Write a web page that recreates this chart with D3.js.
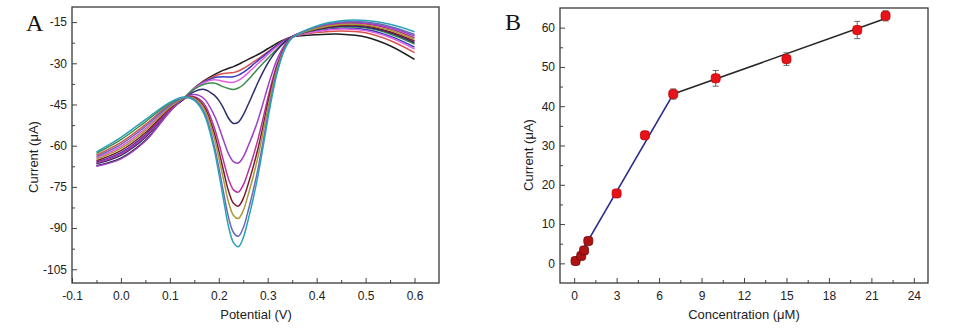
<!DOCTYPE html>
<html><head><meta charset="utf-8">
<script src="https://cdn.jsdelivr.net/npm/d3@7"></script>
<style>
html,body{margin:0;padding:0;background:#fff;}
svg{display:block;font-family:"Liberation Sans",Arial,sans-serif;}
</style></head>
<body>
<svg id="chart" width="980" height="332"></svg>
<script>
// ---------- Panel A data: DPV curves ----------
const potential = [-0.05, 0, 0.05, 0.1, 0.13, 0.15, 0.17, 0.19, 0.2, 0.21, 0.22, 0.23, 0.24, 0.25, 0.26, 0.27, 0.28, 0.29, 0.3, 0.31, 0.32, 0.335, 0.35, 0.4, 0.45, 0.5, 0.55, 0.6];
const curveBlack   = [-67.3, -64.5, -58.0, -47.5, -42.5, -39.0, -36.3, -34.2, -33.3, -32.5, -31.8, -31.2, -30.4, -29.5, -28.6, -27.7, -26.8, -25.8, -24.7, -23.7, -22.6, -21.3, -20.4, -19.6, -19.4, -20.4, -23.6, -28.6];
const curveRed     = [-63.5, -58.8, -52.3, -45.0, -42.6, -39.1, -36.6, -34.8, -34.1, -33.7, -33.5, -33.4, -32.8, -31.9, -30.8, -29.6, -28.4, -27.1, -25.8, -24.5, -23.2, -21.5, -20.3, -18.8, -18.2, -18.9, -21.7, -26.1];
const curveBlue    = [-66.0, -62.5, -56.0, -46.6, -42.8, -39.1, -36.8, -35.3, -35.0, -34.9, -35.0, -34.9, -34.3, -33.3, -32.0, -30.5, -29.0, -27.6, -26.1, -24.7, -23.4, -21.7, -20.3, -18.2, -17.2, -17.7, -20.1, -24.1];
const curvePink    = [-64.5, -60.3, -53.8, -45.7, -42.7, -39.2, -37.0, -36.0, -36.2, -36.6, -36.9, -36.9, -36.2, -35.0, -33.5, -31.8, -30.1, -28.5, -26.8, -25.2, -23.8, -21.9, -20.3, -18.4, -17.5, -18.1, -20.6, -24.8];
const curveGreen   = [-62.8, -57.8, -51.3, -44.5, -42.4, -39.4, -37.6, -37.2, -37.8, -38.6, -39.2, -39.5, -39.0, -37.8, -36.0, -34.0, -32.0, -30.1, -28.2, -26.4, -24.6, -22.3, -20.3, -17.8, -16.7, -17.1, -19.3, -23.0];
const curveNavy    = [-66.6, -63.5, -57.0, -47.0, -42.9, -40.3, -39.5, -41.5, -43.5, -46.5, -50.0, -51.9, -51.4, -48.8, -45.0, -41.0, -37.0, -33.3, -30.0, -27.3, -25.0, -22.2, -20.2, -17.7, -16.5, -16.8, -18.9, -22.5];
const curvePurple  = [-67.5, -64.8, -58.3, -47.6, -42.6, -41.4, -42.9, -48.7, -53.1, -58.2, -63.0, -65.8, -66.3, -64.1, -60.1, -55.7, -50.7, -44.8, -38.6, -33.0, -28.2, -23.2, -20.3, -16.9, -15.2, -15.3, -17.0, -20.0];
const curveMagenta = [-66.3, -63.0, -56.5, -46.8, -42.5, -42.2, -44.8, -53.0, -59.0, -65.8, -72.2, -76.1, -76.9, -74.3, -69.5, -64.0, -57.7, -50.4, -42.8, -35.8, -29.9, -23.8, -20.4, -17.1, -15.6, -15.7, -17.5, -20.7];
const curveMaroon  = [-65.5, -61.8, -55.3, -46.3, -42.6, -42.5, -45.8, -55.0, -61.8, -69.4, -76.6, -81.0, -82.0, -79.2, -74.0, -67.9, -61.1, -53.2, -44.7, -37.1, -30.7, -24.0, -20.5, -17.5, -16.2, -16.4, -18.5, -21.9];
const curveOlive   = [-65.0, -61.0, -54.5, -46.0, -42.6, -42.8, -46.6, -56.8, -64.3, -72.6, -80.6, -85.4, -86.5, -83.6, -77.9, -71.5, -64.1, -55.5, -46.5, -38.3, -31.4, -24.3, -20.6, -17.3, -15.9, -16.1, -18.0, -21.3];
const curveSlate   = [-64.0, -59.5, -53.0, -45.3, -42.5, -43.2, -47.8, -59.5, -67.9, -77.3, -86.2, -91.6, -93.0, -89.9, -83.7, -76.5, -68.5, -59.0, -49.0, -40.0, -32.4, -24.6, -20.7, -16.7, -15.0, -15.0, -16.6, -19.5];
const curveTeal    = [-62.3, -57.0, -50.5, -44.2, -42.3, -43.5, -48.5, -61.0, -70.0, -80.0, -89.5, -95.3, -96.8, -93.5, -87.0, -79.5, -71.0, -61.0, -50.5, -41.0, -33.0, -24.8, -20.8, -16.4, -14.5, -14.4, -15.8, -18.5];
const curveColors  = ["#1e1e1e", "#d9534f", "#3a3ac8", "#e05ee0", "#3b8c4c", "#2c2c6c", "#9a42c8", "#b8329c", "#7e1a30", "#a89a34", "#6a6ab8", "#2aa2b8"];

const xTicksA = [-0.1, 0, 0.1, 0.2, 0.3, 0.4, 0.5, 0.6];
const xTickLabelsA = ["-0.1", "0.0", "0.1", "0.2", "0.3", "0.4", "0.5", "0.6"];
const yTicksA = [-105, -90, -75, -60, -45, -30, -15];
const yTickLabelsA = ["-105", "-90", "-75", "-60", "-45", "-30", "-15"];

// ---------- Panel B data: calibration ----------
const conc      = [0.1, 0.5, 0.7, 1, 3, 5, 7, 10, 15, 20, 22];
const current   = [0.6, 1.9, 3.3, 5.7, 17.8, 32.6, 43.1, 47.1, 52.0, 59.4, 63.0];
const currentSd = [0.4, 0.4, 0.5, 0.6, 0.8, 1.0, 1.3, 2.0, 1.6, 2.2, 1.3];
const fitLowX   = [0.1, 7];
const fitLowY   = [0.3, 43.1];
const fitHighX  = [7, 22];
const fitHighY  = [43.1, 62.3];
const xTicksB = [0, 3, 6, 9, 12, 15, 18, 21, 24];
const yTicksB = [0, 10, 20, 30, 40, 50, 60];

// ---------- drawing ----------
const svg = d3.select("#chart");
const fontTick = 12, fontTitle = 13;

function drawFrame(g, x, y, xt, xl, yt, yl, xMinor, yMinor) {
  const [x0, x1] = x.range(), [y0, y1] = y.range();
  g.append("g").attr("transform", `translate(0,${y0})`)
    .call(d3.axisBottom(x).tickValues(xMinor).tickSize(-3).tickFormat(""))
    .call(s => { s.select(".domain").remove(); s.selectAll("line").attr("stroke", "#444"); });
  g.append("g").attr("transform", `translate(${x0},0)`)
    .call(d3.axisLeft(y).tickValues(yMinor).tickSize(-3).tickFormat(""))
    .call(s => { s.select(".domain").remove(); s.selectAll("line").attr("stroke", "#444"); });
  g.append("g").attr("transform", `translate(0,${y0})`)
    .call(d3.axisBottom(x).tickValues(xt).tickSize(-5).tickPadding(8).tickFormat((d, i) => xl[i]))
    .call(s => { s.select(".domain").remove(); s.selectAll("line").attr("stroke", "#444");
      s.selectAll("text").attr("fill", "#222").attr("font-size", fontTick).attr("font-family", "Liberation Sans, Arial, sans-serif"); });
  g.append("g").attr("transform", `translate(${x0},0)`)
    .call(d3.axisLeft(y).tickValues(yt).tickSize(-5).tickPadding(5).tickFormat((d, i) => yl[i]))
    .call(s => { s.select(".domain").remove(); s.selectAll("line").attr("stroke", "#444");
      s.selectAll("text").attr("fill", "#222").attr("font-size", fontTick).attr("font-family", "Liberation Sans, Arial, sans-serif"); });
  g.append("rect").attr("x", x0).attr("y", y1).attr("width", x1 - x0).attr("height", y0 - y1)
    .attr("fill", "none").attr("stroke", "#3a3a3a").attr("stroke-width", 1.3);
}

// Panel A
const xA = d3.scaleLinear().domain([-0.1, 0.65]).range([72, 439]);
const yA = d3.scaleLinear().domain([-110, -9.5]).range([283, 7]);
const gA = svg.append("g");
const seriesA = [curveBlack, curveRed, curveBlue, curvePink, curveGreen, curveNavy, curvePurple, curveMagenta, curveMaroon, curveOlive, curveSlate, curveTeal];
const lineA = d3.line().x(d => xA(d[0])).y(d => yA(d[1])).curve(d3.curveCatmullRom.alpha(0.5));
seriesA.forEach((vals, k) => {
  gA.append("path").datum(potential.map((p, i) => [p, vals[i]]))
    .attr("d", lineA).attr("fill", "none").attr("stroke", curveColors[k]).attr("stroke-width", 1.5);
});
drawFrame(gA, xA, yA, xTicksA, xTickLabelsA, yTicksA, yTickLabelsA,
  [-0.05, 0.05, 0.15, 0.25, 0.35, 0.45, 0.55], [-97.5, -82.5, -67.5, -52.5, -37.5, -22.5]);
gA.append("text").attr("x", 26).attr("y", 31).attr("font-family", "Liberation Serif, Times New Roman, serif")
  .attr("font-size", 24).attr("fill", "#111").text("A");
gA.append("text").attr("transform", "translate(38,157) rotate(-90)").attr("text-anchor", "middle")
  .attr("font-size", fontTitle).attr("fill", "#222").text("Current (μA)");
gA.append("text").attr("x", 256).attr("y", 319).attr("text-anchor", "middle")
  .attr("font-size", fontTitle).attr("fill", "#222").text("Potential (V)");

// Panel B
const xB = d3.scaleLinear().domain([-1, 25]).range([560, 928]);
const yB = d3.scaleLinear().domain([-5, 65]).range([283, 8]);
const gB = svg.append("g");
drawFrame(gB, xB, yB, xTicksB, xTicksB.map(String), yTicksB, yTicksB.map(String),
  [1.5, 4.5, 7.5, 10.5, 13.5, 16.5, 19.5, 22.5], [5, 15, 25, 35, 45, 55]);
const lineB = d3.line().x(d => xB(d[0])).y(d => yB(d[1]));
gB.append("path").datum(fitLowX.map((v, i) => [v, fitLowY[i]])).attr("d", lineB)
  .attr("stroke", "#2b2b8e").attr("stroke-width", 1.6).attr("fill", "none");
gB.append("path").datum(fitHighX.map((v, i) => [v, fitHighY[i]])).attr("d", lineB)
  .attr("stroke", "#262626").attr("stroke-width", 1.6).attr("fill", "none");
const pts = conc.map((c, i) => ({ c, v: current[i], e: currentSd[i], i }));
const eb = gB.append("g").attr("stroke", "#666").attr("stroke-width", 1);
pts.forEach(p => {
  eb.append("line").attr("x1", xB(p.c)).attr("x2", xB(p.c)).attr("y1", yB(p.v - p.e)).attr("y2", yB(p.v + p.e));
  [p.v - p.e, p.v + p.e].forEach(v => eb.append("line").attr("x1", xB(p.c) - 3).attr("x2", xB(p.c) + 3).attr("y1", yB(v)).attr("y2", yB(v)));
});
gB.selectAll("rect.pt").data(pts).enter().append("rect").attr("class", "pt")
  .attr("x", d => xB(d.c) - 4.5).attr("y", d => yB(d.v) - 4.5).attr("width", 9).attr("height", 9).attr("rx", 3)
  .attr("fill", d => d.c <= 1 ? "#b01212" : "#e8121a").attr("stroke", d => d.c <= 1 ? "#6a0a0a" : "#c00000").attr("stroke-width", 0.8);
gB.append("text").attr("x", 505).attr("y", 30).attr("font-family", "Liberation Serif, Times New Roman, serif")
  .attr("font-size", 24).attr("fill", "#111").text("B");
gB.append("text").attr("transform", "translate(533,155) rotate(-90)").attr("text-anchor", "middle")
  .attr("font-size", fontTitle).attr("fill", "#222").text("Current (μA)");
gB.append("text").attr("x", 744).attr("y", 319).attr("text-anchor", "middle")
  .attr("font-size", fontTitle).attr("fill", "#222").text("Concentration (μM)");
</script>
</body></html>
